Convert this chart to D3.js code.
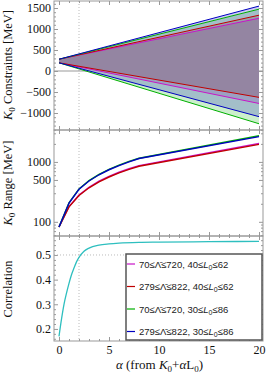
<!DOCTYPE html>
<html>
<head>
<meta charset="utf-8">
<script src="https://cdn.jsdelivr.net/npm/d3@7"></script>
<style>
  body { margin: 0; background: #fff; }
  svg text { font-family: 'Liberation Serif', 'DejaVu Serif', serif; fill: #111; }
  .legend text { font-family: 'Liberation Sans', 'DejaVu Sans', sans-serif; }
</style>
</head>
<body>
<svg id="chart"></svg>
<script>
// ---- DATA ----
const seriesColors = ['#c815c8', '#c00000', '#00b000', '#0000c0'];
const lambdaRanges = ['70≤Λ̄≤720', '279≤Λ̄≤822', '70≤Λ̄≤720', '279≤Λ̄≤822'];
const l0Ranges = [[40, 62], [40, 62], [30, 86], [30, 86]];

// K0 constraints: bounds at alpha = 0 and 20 (straight fan)
const alphaFan = [0, 20];
const k0Upper = [[280, 1256], [280, 1329], [280, 1473], [280, 1546]];
const k0Lower = [[195, -773], [195, -628], [195, -1256], [195, -1087]];

// K0 range (log scale)
const alphaRange = [0, 1, 2, 3, 4, 5, 6, 7, 8, 20];
const k0Range = [
  [82, 180, 280, 378, 476, 574, 672, 770, 868, 2030],
  [82, 178, 275, 370, 465, 560, 655, 750, 845, 1960],
  [82, 207, 355, 488, 620, 752, 885, 1018, 1150, 2730],
  [82, 205, 350, 480, 610, 740, 870, 1000, 1140, 2640]
];

// correlation
const alphaCorr = [0, 0.25, 0.5, 0.75, 1, 1.25, 1.5, 1.75, 2, 2.5, 3, 4, 5, 6, 8, 10, 15, 20];
const corrValues = [0.17, 0.24, 0.30, 0.345, 0.385, 0.42, 0.447, 0.472, 0.49, 0.515, 0.528, 0.54, 0.545, 0.548, 0.551, 0.552, 0.554, 0.555];

// tick values
const xMajor = [0, 5, 10, 15, 20];
const y1Major = [-1000, -500, 0, 500, 1000, 1500];
const y2Major = [100, 500, 1000];
const y3Major = [0.2, 0.3, 0.4, 0.5];
const refAlpha = 2;
const refCorr = 0.5;

// ---- LAYOUT ----
const W = 266, H = 376;
const left = 54, right = 263;
const panels = [{top: 1, bottom: 130}, {top: 130, bottom: 236}, {top: 236, bottom: 341}];

const svg = d3.select('#chart').attr('width', W).attr('height', H);

const xScale = d3.scaleLinear().domain([-0.5, 20.4]).range([left, right]);
const y1 = d3.scaleLinear().domain([-1405, 1667]).range([panels[0].bottom, panels[0].top]);
const y2 = d3.scaleLog().domain([58, 3410]).range([panels[1].bottom, panels[1].top]);
const y3 = d3.scaleLinear().domain([0.151, 0.577]).range([panels[2].bottom, panels[2].top]);
const yScales = [y1, y2, y3];
const yFormats = [d3.format('d'), d3.format('d'), d3.format('.1f')];

const xMinor = d3.range(0, 21, 1).filter(v => !xMajor.includes(v));
const yMinors = [
  d3.range(-1400, 1700, 100).filter(v => !y1Major.includes(v)),
  [60, 70, 80, 90, 200, 300, 400, 600, 700, 800, 900, 2000, 3000],
  d3.range(16, 58, 2).map(v => v / 100).filter(v => ![20, 30, 40, 50].includes(Math.round(v * 100)))
];
const yMajors = [y1Major, y2Major, y3Major];

function styleAxis(g) {
  g.select('.domain').remove();
  g.selectAll('line').attr('stroke', '#999');
  g.selectAll('text').attr('font-size', 12).attr('font-family', 'Liberation Serif, serif').attr('fill', '#111');
}

// ---- FRAMES, TICKS ----
panels.forEach((p, i) => {
  const ys = yScales[i];

  // reference dotted line at alpha = 2
  svg.append('line')
    .attr('x1', xScale(refAlpha)).attr('x2', xScale(refAlpha))
    .attr('y1', p.top).attr('y2', p.bottom)
    .attr('stroke', '#bbb').attr('stroke-dasharray', '1,2');

  const ticks = [
    [d3.axisLeft(ys).tickValues(yMajors[i]).tickSize(-4).tickPadding(3).tickFormat(yFormats[i]), `translate(${left},0)`],
    [d3.axisLeft(ys).tickValues(yMinors[i]).tickSize(-2).tickFormat(''), `translate(${left},0)`],
    [d3.axisRight(ys).tickValues(yMajors[i]).tickSize(-4).tickFormat(''), `translate(${right},0)`],
    [d3.axisRight(ys).tickValues(yMinors[i]).tickSize(-2).tickFormat(''), `translate(${right},0)`],
    [d3.axisTop(xScale).tickValues(xMajor).tickSize(-4).tickFormat(''), `translate(0,${p.top})`],
    [d3.axisTop(xScale).tickValues(xMinor).tickSize(-2).tickFormat(''), `translate(0,${p.top})`],
    [d3.axisBottom(xScale).tickValues(xMajor).tickSize(-4).tickFormat(i === 2 ? d3.format('d') : '').tickPadding(4), `translate(0,${p.bottom})`],
    [d3.axisBottom(xScale).tickValues(xMinor).tickSize(-2).tickFormat(''), `translate(0,${p.bottom})`]
  ];
  ticks.forEach(t => {
    svg.append('g').attr('transform', t[1]).call(t[0]).call(styleAxis);
  });
});

// ---- TOP PANEL: K0 constraints fan ----
svg.append('line')
  .attr('x1', left).attr('x2', right)
  .attr('y1', y1(0)).attr('y2', y1(0))
  .attr('stroke', '#999');

const fan = seriesColors.map((c, i) => alphaFan.map((a, j) => ({a: a, lo: k0Lower[i][j], hi: k0Upper[i][j]})));

const area = d3.area().x(d => xScale(d.a)).y0(d => y1(d.lo)).y1(d => y1(d.hi));

// white under-layer hides the zero line inside the fan
svg.append('g').selectAll('path')
  .data(fan)
  .join('path')
  .attr('d', area)
  .attr('fill', '#fff');

svg.append('g').selectAll('path')
  .data(fan)
  .join('path')
  .attr('d', area)
  .attr('fill', (d, i) => seriesColors[i])
  .attr('fill-opacity', 0.2);

const fanLines = svg.append('g');
fan.forEach((s, i) => {
  ['lo', 'hi'].forEach(k => {
    fanLines.append('path')
      .attr('d', d3.line().x(d => xScale(d.a)).y(d => y1(d[k]))(s))
      .attr('fill', 'none')
      .attr('stroke', seriesColors[i])
      .attr('stroke-width', 1);
  });
});

// ---- MIDDLE PANEL: K0 range ----
const rangeLine = d3.line().x((d, j) => xScale(alphaRange[j])).y(d => y2(d));
svg.append('g').selectAll('path')
  .data(k0Range)
  .join('path')
  .attr('d', rangeLine)
  .attr('fill', 'none')
  .attr('stroke', (d, i) => seriesColors[i])
  .attr('stroke-width', 1.4);

// ---- BOTTOM PANEL: correlation ----
svg.append('line')
  .attr('x1', left).attr('x2', right)
  .attr('y1', y3(refCorr)).attr('y2', y3(refCorr))
  .attr('stroke', '#bbb').attr('stroke-dasharray', '1,2');

svg.append('path')
  .datum(corrValues)
  .attr('d', d3.line().curve(d3.curveMonotoneX).x((d, j) => xScale(alphaCorr[j])).y(d => y3(d)))
  .attr('fill', 'none')
  .attr('stroke', '#2ebfbf')
  .attr('stroke-width', 1.3);

// frames on top
panels.forEach(p => {
  svg.append('rect')
    .attr('x', left).attr('y', p.top)
    .attr('width', right - left).attr('height', p.bottom - p.top)
    .attr('fill', 'none').attr('stroke', '#999');
});

// ---- LEGEND ----
const legend = svg.append('g').attr('class', 'legend');
legend.append('rect')
  .attr('x', 126).attr('y', 254).attr('width', 136).attr('height', 86)
  .attr('fill', '#fff').attr('stroke', '#555').attr('stroke-width', 1.5);

const items = legend.selectAll('.item')
  .data(seriesColors)
  .join('g')
  .attr('class', 'item')
  .attr('transform', (d, i) => `translate(127, ${264 + i * 22.5})`);

items.append('line')
  .attr('x1', 0).attr('x2', 8)
  .attr('stroke', d => d).attr('stroke-width', 1.2);

const lt = items.append('text')
  .attr('x', 12).attr('y', 3.5)
  .attr('font-size', 9.5)
  .style('fill', '#222');
lt.append('tspan').text((d, i) => `${lambdaRanges[i]}, ${l0Ranges[i][0]}≤`);
lt.append('tspan').attr('font-style', 'italic').text('L');
lt.append('tspan').attr('font-size', 7).attr('dy', 2).text('0');
lt.append('tspan').attr('dy', -2).text((d, i) => `≤${l0Ranges[i][1]}`);

// ---- AXIS LABELS ----
function yLabel(cx, cy, parts) {
  const t = svg.append('text')
    .attr('transform', `translate(${cx},${cy}) rotate(-90)`)
    .attr('text-anchor', 'middle')
    .attr('font-size', 12.5);
  parts.forEach(p => {
    const s = t.append('tspan').text(p.t);
    if (p.i) s.attr('font-style', 'italic');
    if (p.sub) s.attr('font-size', 9).attr('dy', 3);
    if (p.up) s.attr('dy', -3);
  });
}
yLabel(12, 65, [{t: 'K', i: true}, {t: '0', sub: true}, {t: ' Constraints [MeV]', up: true}]);
yLabel(12, 183, [{t: 'K', i: true}, {t: '0', sub: true}, {t: ' Range [MeV]', up: true}]);
yLabel(12, 289, [{t: 'Correlation'}]);

const xl = svg.append('text')
  .attr('x', (left + right) / 2 + 1).attr('y', 369)
  .attr('text-anchor', 'middle')
  .attr('font-size', 13);
xl.append('tspan').attr('font-style', 'italic').text('α');
xl.append('tspan').text(' (from ');
xl.append('tspan').attr('font-style', 'italic').text('K');
xl.append('tspan').attr('font-size', 9).attr('dy', 3).text('0');
xl.append('tspan').attr('dy', -3).text('+');
xl.append('tspan').attr('font-style', 'italic').text('α');
xl.append('tspan').text('L');
xl.append('tspan').attr('font-size', 9).attr('dy', 3).text('0');
xl.append('tspan').attr('dy', -3).text(')');
</script>
</body>
</html>
